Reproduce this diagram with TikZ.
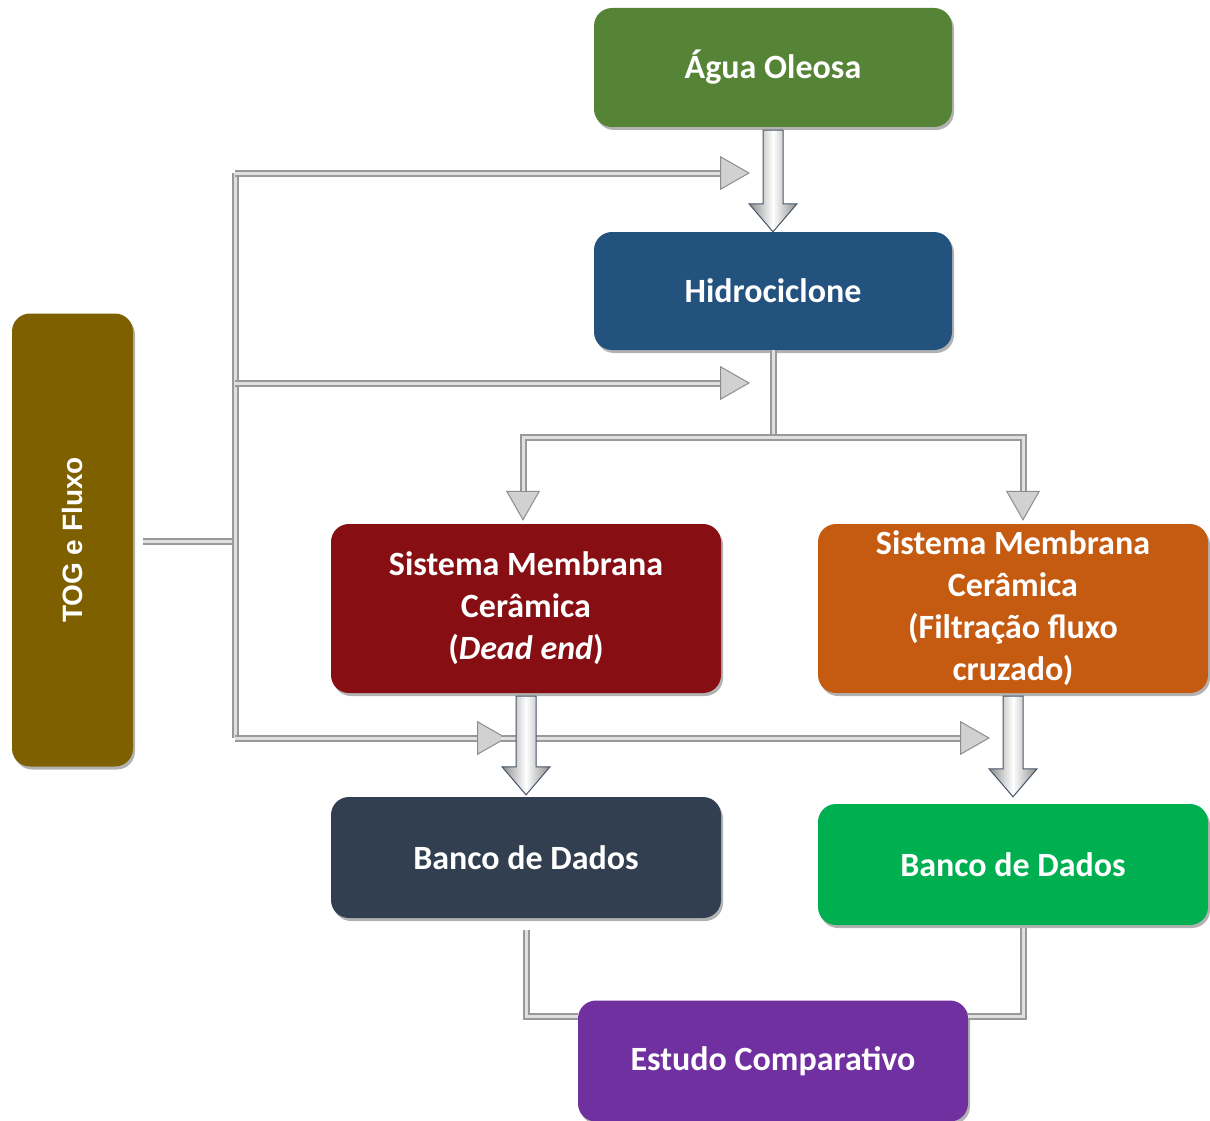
\documentclass[tikz,border=0pt]{standalone}
\usepackage{fontspec}
\setmainfont{Carlito}
\newfontfamily\arialb{Liberation Sans}[BoldFont={* Bold}]
\usetikzlibrary{arrows.meta,calc,shadows}
\definecolor{cAgua}{RGB}{86,132,55}
\definecolor{cHidro}{RGB}{36,82,126}
\definecolor{cTog}{RGB}{127,96,0}
\definecolor{cDead}{RGB}{135,14,18}
\definecolor{cCross}{RGB}{197,90,17}
\definecolor{cBanco}{RGB}{50,63,80}
\definecolor{cBancoG}{RGB}{0,176,80}
\definecolor{cEstudo}{RGB}{112,48,160}
\definecolor{cEdge}{RGB}{70,85,105}
\tikzset{
  box/.style={rounded corners=18pt, inner sep=0pt, text=white, align=center,
    font=\fontsize{34}{42}\selectfont\bfseries,
    drop shadow={shadow xshift=2pt, shadow yshift=-3pt, opacity=0.3, fill=black}},
  pipe/.style={line width=7pt, draw=black!40, line join=miter,
    postaction={draw=black!12, line width=3pt}},
  pipearrow/.style={line width=7pt, draw=black!40, line join=miter,
    -{Triangle[length=30pt,width=34pt,line width=1pt,fill=black!18,color=black!45]},
    postaction={draw=black!12, line width=3pt, -, shorten >=30pt}},
  blockarrow/.style={draw=cEdge, line width=1pt, left color=black!45, right color=black!45, middle color=white}
}
\newcommand\blkarrow[2]{%
  \path[blockarrow] let \p1=(#1), \p2=(#2) in
   (\x1-10pt,\y1) -- (\x1+10pt,\y1) -- (\x1+10pt,\y2+28pt) -- (\x1+24pt,\y2+28pt)
   -- (\x1,\y2) -- (\x1-24pt,\y2+28pt) -- (\x1-10pt,\y2+28pt) -- cycle;}
\begin{document}
\begin{tikzpicture}[x=1pt,y=-1pt]
\useasboundingbox (0,0) rectangle (1210,1121);
% boxes
\node[box, fill=cAgua, minimum width=358pt, minimum height=119pt] (agua) at (773,67.5) {Água Oleosa};
\node[box, fill=cHidro, minimum width=358pt, minimum height=118pt] (hidro) at (773,291) {Hidrociclone};
\node[box, fill=cTog, minimum width=121pt, minimum height=453pt] (tog) at (72.5,540) {};
\node[text=white, rotate=90, font=\arialb\fontsize{28}{34}\selectfont\bfseries] (togt) at (tog.center) {TOG e Fluxo};
\node[box, fill=cDead, minimum width=390pt, minimum height=169pt] (dead) at (526,608.5) {Sistema Membrana\\Cerâmica\\(\textit{Dead end})};
\node[box, fill=cCross, minimum width=390pt, minimum height=169pt] (cross) at (1013,608.5) {Sistema Membrana\\Cerâmica\\(Filtração fluxo\\cruzado)};
\node[box, fill=cBanco, minimum width=390pt, minimum height=121pt] (banco1) at (526,857.5) {Banco de Dados};
\node[box, fill=cBancoG, minimum width=390pt, minimum height=121pt] (banco2) at (1013,864.5) {Banco de Dados};
\node[box, fill=cEstudo, minimum width=390pt, minimum height=121pt] (estudo) at (773,1061) {Estudo Comparativo};
% coordinates
\coordinate (togout) at (143,541);
\coordinate (jtop) at (235,173);
\coordinate (jmid) at (235,383);
\coordinate (jbot) at (235,738);
\coordinate (jtog) at (235,541);
\coordinate (t1) at (750,173);
\coordinate (t2) at (750,383);
\coordinate (t3) at (507,738);
\coordinate (t4) at (990,738);
\coordinate (split) at (773,437);
\coordinate (sl) at (523,437);
\coordinate (sr) at (1023,437);
\coordinate (b1s) at (526,930);
\coordinate (b2s) at (1023,928);
\coordinate (eb) at (526,1016);
\coordinate (ebr) at (1023,1016);
% pipes
\draw[pipe] (togout) -- (jtog);
\draw[pipe] (jbot) -- (jtop);
\draw[pipearrow] (jtop) -- (t1);
\draw[pipearrow] (jmid) -- (t2);
\draw[pipearrow] (jbot) -- (t3);
\draw[pipearrow] ([xshift=-6pt]t3) -- (t4);
\draw[pipe] (hidro.south) -- (split);
\draw[pipearrow] (split) -- (sl) -- ([yshift=3pt]sl |- dead.north);
\draw[pipearrow] (split) -- (sr) -- ([yshift=3pt]sr |- dead.north);
\draw[pipe] (b1s) -- (eb) -- (estudo.west |- eb);
\draw[pipe] (b2s) -- (ebr) -- (estudo.east |- ebr);
% block arrows
\blkarrow{[yshift=-3pt]agua.south}{hidro.north}
\blkarrow{[yshift=-3pt]dead.south}{[yshift=2pt]banco1.north}
\blkarrow{[yshift=-3pt]cross.south}{[yshift=7pt]banco2.north}
\end{tikzpicture}
\end{document}
